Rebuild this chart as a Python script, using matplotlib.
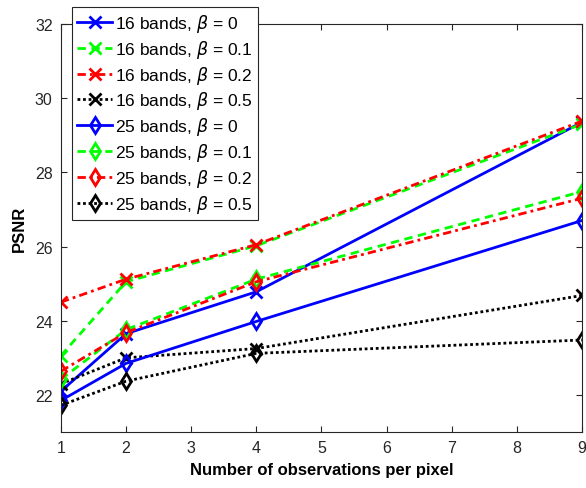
import numpy as np
import matplotlib
matplotlib.use('Agg')
import matplotlib.pyplot as plt

plt.rcParams['font.family'] = ['Liberation Sans', 'DejaVu Sans']
plt.rcParams['mathtext.fontset'] = 'dejavusans'

# observations per pixel
x = [1, 2, 4, 9]

# PSNR values, 16 bands
b16_0 = [22.10, 23.65, 24.78, 29.35]
b16_01 = [23.06, 25.05, 26.02, 29.30]
b16_02 = [24.50, 25.12, 26.05, 29.38]
b16_05 = [22.30, 23.00, 23.25, 24.68]
# PSNR values, 25 bands
b25_0 = [21.85, 22.85, 23.98, 26.70]
b25_01 = [22.42, 23.76, 25.12, 27.48]
b25_02 = [22.64, 23.68, 25.05, 27.30]
b25_05 = [21.72, 22.37, 23.12, 23.48]

labels = ['16 bands, $\\beta$ = 0', '16 bands, $\\beta$ = 0.1',
          '16 bands, $\\beta$ = 0.2', '16 bands, $\\beta$ = 0.5',
          '25 bands, $\\beta$ = 0', '25 bands, $\\beta$ = 0.1',
          '25 bands, $\\beta$ = 0.2', '25 bands, $\\beta$ = 0.5']

fig = plt.figure(figsize=(5.86, 4.89), dpi=100)
ax = fig.add_axes([0.104, 0.1145, 0.889, 0.8345])

series = [b16_0, b16_01, b16_02, b16_05, b25_0, b25_01, b25_02, b25_05]
colors = ['#0000ff', '#00ff00', '#ff0000', 'k'] * 2
styles = ['-', (0, (3, 2)), (0, (3, 1.5, 1, 1.5)), (0, (1, 1))] * 2
markers = ['x'] * 4 + ['d'] * 4

for y, c, ls, m, lab in zip(series, colors, styles, markers, labels):
    ax.plot(x, y, color=c, linestyle=ls, marker=m, lw=2, ms=8,
            mew=2, mfc='none' if m == 'd' else c, label=lab)

ax.set_xlim(1, 9)
ax.set_ylim(21, 32)
ax.set_xticks(range(1, 10))
ax.set_yticks(range(22, 33, 2))
ax.tick_params(direction='in', top=True, right=True, labelsize=11.5, colors='0.15', length=4, pad=6)
for s in ax.spines.values():
    s.set_color('0.15')
    s.set_linewidth(0.8)

ax.set_xlabel('Number of observations per pixel', fontsize=12, fontweight='bold', labelpad=5)
ax.set_ylabel('PSNR', fontsize=12, fontweight='bold', labelpad=6)

leg = ax.legend(loc='upper left', bbox_to_anchor=(0.123, 0.984), bbox_transform=fig.transFigure,
                fontsize=12.5, labelspacing=0.22, handlelength=2.0, handletextpad=0.2,
                borderpad=0.3, borderaxespad=0, fancybox=False, framealpha=1, edgecolor='0.15')
leg.get_frame().set_linewidth(0.8)

fig.savefig('out.png', dpi=100)
